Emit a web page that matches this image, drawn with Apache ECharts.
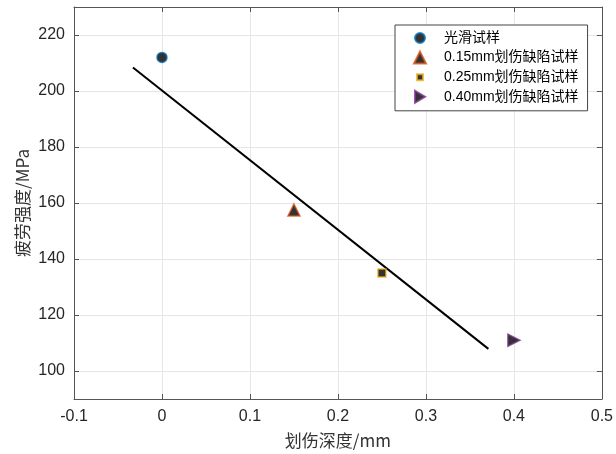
<!DOCTYPE html>
<html>
<head>
<meta charset="utf-8">
<script src="https://cdn.jsdelivr.net/npm/echarts@6/dist/echarts.min.js"></script>
<style>
  html, body { margin: 0; padding: 0; background: #fff; }
  #main { width: 616px; height: 454px; }
</style>
</head>
<body>
<div id="main"></div>
<script>
// 疲劳强度 vs 划伤深度
var seriesNames = ['光滑试样', '0.15mm划伤缺陷试样', '0.25mm划伤缺陷试样', '0.40mm划伤缺陷试样']
var depthX = [0, 0.15, 0.25, 0.40]
var strengthY = [212, 157.5, 135, 111]
// 拟合直线两端
var fitX = [-0.033, 0.371]
var fitY = [208.4, 107.9]
var yTicks = [100, 120, 140, 160, 180, 200, 220]

var symbols = ['circle', 'triangle', 'rect', 'path://M0,0 L10,5 L0,10 Z']
var legendIcons = ['path://M6,1 A5,5 0 1,1 5.99,1 Z M0,0 M12,12', 'triangle', 'path://M0,0 M3,3 L9,3 L9,9 L3,9 Z M12,12', 'path://M1,0 L11,6 L1,12 Z M0,0 M12,12']
var sizes = [10, 12, 8, 12]
var edgeColors = ['#0072BD', '#D95319', '#EDB120', '#7E2F8E']

var chart = echarts.init(document.getElementById('main'))

var series = []
var legendData = []
for (var i = 0; i < seriesNames.length; i++) {
  series.push({
    name: seriesNames[i],
    type: 'scatter',
    symbol: symbols[i],
    symbolSize: sizes[i],
    itemStyle: { color: '#000', borderColor: edgeColors[i], borderWidth: 1.5 },
    data: [[depthX[i], strengthY[i]]],
    z: 3
  })
  legendData.push({ name: seriesNames[i], icon: legendIcons[i] })
}
series.push({
  name: 'fit',
  type: 'line',
  showSymbol: false,
  symbol: 'none',
  lineStyle: { color: '#000', width: 2 },
  data: [[fitX[0], fitY[0]], [fitX[1], fitY[1]]],
  z: 2
})

var tickFont = { fontFamily: 'Liberation Sans', fontSize: 16, color: '#262626' }
var axisLine = { show: true, onZero: false, lineStyle: { color: '#555', width: 1 } }

var option = {
  animation: false,
  grid: { left: 74, right: 13, top: 7, bottom: 55 },
  legend: {
    data: legendData,
    orient: 'vertical',
    left: 395,
    top: 25,
    padding: [6, 9, 7, 18],
    itemWidth: 12,
    itemHeight: 12,
    itemGap: 5.6,
    borderColor: '#444',
    borderWidth: 1,
    backgroundColor: '#fff',
    textStyle: { fontFamily: 'Liberation Sans, Noto Sans CJK SC', fontSize: 14, lineHeight: 14, color: '#000', padding: [0, 0, 0, 13] }
  },
  xAxis: [{
    type: 'value',
    min: -0.1,
    max: 0.5,
    interval: 0.1,
    name: '划伤深度/mm',
    nameLocation: 'middle',
    nameGap: 33,
    nameMoveOverlap: false,
    nameTextStyle: { fontFamily: 'Noto Sans CJK SC', fontSize: 17, color: '#333' },
    axisLine: axisLine,
    axisTick: { show: true, inside: true, length: 5, lineStyle: { color: '#555' } },
    axisLabel: Object.assign({ margin: 10, formatter: function (v) { return String(Math.round(v * 10) / 10) } }, tickFont),
    splitLine: { show: true, lineStyle: { color: '#e6e6e6', width: 1 } }
  }, {
    type: 'value',
    position: 'top',
    min: -0.1,
    max: 0.5,
    interval: 0.1,
    axisLine: axisLine,
    axisTick: { show: true, inside: true, length: 5, lineStyle: { color: '#555' } },
    axisLabel: { show: false },
    splitLine: { show: false }
  }],
  yAxis: [{
    type: 'value',
    min: 90,
    max: 230,
    interval: 10,
    name: '疲劳强度/MPa',
    nameLocation: 'middle',
    nameGap: 43,
    nameMoveOverlap: false,
    nameTextStyle: { fontFamily: 'Noto Sans CJK SC', fontSize: 17, color: '#333' },
    axisLine: axisLine,
    axisTick: { show: true, inside: true, length: 5, customValues: yTicks, lineStyle: { color: '#555' } },
    axisLabel: Object.assign({ margin: 9, customValues: yTicks }, tickFont),
    splitLine: { show: true, lineStyle: { color: '#e6e6e6', width: 1 } }
  }, {
    type: 'value',
    position: 'right',
    min: 90,
    max: 230,
    interval: 10,
    axisLine: axisLine,
    axisTick: { show: true, inside: true, length: 5, customValues: yTicks, lineStyle: { color: '#555' } },
    axisLabel: { show: false },
    splitLine: { show: false }
  }],
  series: series
}
chart.setOption(option)
</script>
</body>
</html>
